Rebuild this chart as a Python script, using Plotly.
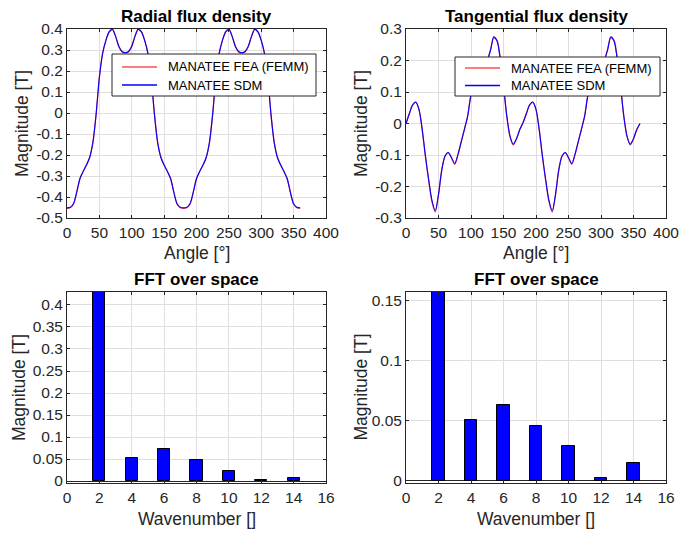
import plotly.graph_objects as go

# ---------------- data ----------------
angle = list(range(0, 361, 5))

radial_sdm = [
    -0.452, -0.449, -0.432, -0.378, -0.312, -0.278, -0.248, -0.212, -0.140, -0.005,
    0.170, 0.283, 0.345, 0.385, 0.398, 0.365, 0.318, 0.293, 0.287, 0.293,
    0.318, 0.365, 0.398, 0.385, 0.345, 0.283, 0.170, -0.005, -0.140, -0.212,
    -0.248, -0.278, -0.312, -0.378, -0.432, -0.449, -0.452, -0.449, -0.432, -0.378,
    -0.312, -0.278, -0.248, -0.212, -0.140, -0.005, 0.170, 0.283, 0.345, 0.385,
    0.398, 0.365, 0.318, 0.293, 0.287, 0.293, 0.318, 0.365, 0.398, 0.385,
    0.345, 0.283, 0.170, -0.005, -0.140, -0.212, -0.248, -0.278, -0.312, -0.378,
    -0.432, -0.449, -0.452,
]
radial_fea = [
    -0.454, -0.451, -0.433, -0.377, -0.313, -0.277, -0.249, -0.211, -0.141, -0.004,
    0.171, 0.284, 0.346, 0.387, 0.401, 0.366, 0.317, 0.291, 0.285, 0.291,
    0.317, 0.366, 0.401, 0.387, 0.346, 0.284, 0.171, -0.004, -0.141, -0.211,
    -0.249, -0.277, -0.313, -0.377, -0.433, -0.451, -0.454, -0.451, -0.433, -0.377,
    -0.313, -0.277, -0.249, -0.211, -0.141, -0.004, 0.171, 0.284, 0.346, 0.387,
    0.401, 0.366, 0.317, 0.291, 0.285, 0.291, 0.317, 0.366, 0.401, 0.387,
    0.346, 0.284, 0.171, -0.004, -0.141, -0.211, -0.249, -0.277, -0.313, -0.377,
    -0.433, -0.451, -0.454,
]

tang_sdm = [
    0.000, 0.030, 0.058, 0.068, 0.045, -0.020, -0.105, -0.180, -0.245, -0.277,
    -0.225, -0.148, -0.104, -0.092, -0.108, -0.127, -0.098, -0.058, -0.018, 0.025,
    0.090, 0.118, 0.140, 0.160, 0.180, 0.200, 0.232, 0.275, 0.262, 0.205,
    0.120, 0.025, -0.040, -0.066, -0.048, -0.020, 0.002, 0.030, 0.058, 0.068,
    0.045, -0.020, -0.105, -0.180, -0.245, -0.277, -0.225, -0.148, -0.104, -0.092,
    -0.108, -0.127, -0.098, -0.058, -0.018, 0.025, 0.090, 0.118, 0.140, 0.160,
    0.180, 0.200, 0.232, 0.275, 0.262, 0.205, 0.120, 0.025, -0.040, -0.066,
    -0.048, -0.020, 0.000,
]
tang_fea = [
    0.000, 0.031, 0.059, 0.067, 0.044, -0.021, -0.107, -0.183, -0.249, -0.281,
    -0.227, -0.147, -0.103, -0.093, -0.110, -0.130, -0.099, -0.057, -0.017, 0.026,
    0.091, 0.118, 0.140, 0.160, 0.180, 0.201, 0.234, 0.272, 0.265, 0.207,
    0.121, 0.024, -0.041, -0.068, -0.049, -0.019, 0.003, 0.031, 0.059, 0.067,
    0.044, -0.021, -0.107, -0.183, -0.249, -0.281, -0.227, -0.147, -0.103, -0.093,
    -0.110, -0.130, -0.099, -0.057, -0.017, 0.026, 0.091, 0.118, 0.140, 0.160,
    0.180, 0.201, 0.234, 0.272, 0.265, 0.207, 0.121, 0.024, -0.041, -0.068,
    -0.049, -0.019, 0.000,
]

wavenumber = [2, 4, 6, 8, 10, 12, 14]
fft_radial = [0.4295, 0.0516, 0.072, 0.047, 0.022, 0.003, 0.0075]
fft_tang = [0.157, 0.0505, 0.063, 0.046, 0.029, 0.0028, 0.0147]

series_names = ["MANATEE FEA (FEMM)", "MANATEE SDM"]

angle_ticks = [0, 50, 100, 150, 200, 250, 300, 350, 400]
radial_ticks = [-0.5, -0.4, -0.3, -0.2, -0.1, 0, 0.1, 0.2, 0.3, 0.4]
radial_ticktext = ["-0.5", "-0.4", "-0.3", "-0.2", "-0.1", "0", "0.1", "0.2", "0.3", "0.4"]
tang_ticks = [-0.3, -0.2, -0.1, 0, 0.1, 0.2, 0.3]
tang_ticktext = ["-0.3", "-0.2", "-0.1", "0", "0.1", "0.2", "0.3"]
wave_ticks = [0, 2, 4, 6, 8, 10, 12, 14, 16]
fft_r_ticks = [0, 0.05, 0.1, 0.15, 0.2, 0.25, 0.3, 0.35, 0.4]
fft_t_ticks = [0, 0.05, 0.1, 0.15]

# ---------------- styling ----------------
# the page body has an 8px default margin; the figure is sized to fill the rest
OFF = 8
W, H = 695 - OFF, 533 - OFF
FONT = "Liberation Sans, Arial, Helvetica, sans-serif"
AX = "#262626"
GRID = "#dedede"
RED = "rgb(255,80,80)"
BLUE = "#0000ff"


def px_x(p):
    return (p - OFF) / W


def px_y(p):
    return 1 - (p - OFF) / H


fig = go.Figure()

# radial
fig.add_trace(go.Scatter(x=angle, y=radial_fea, mode="lines", name=series_names[0],
                         line=dict(color=RED, width=1.3, shape="spline", smoothing=0.8),
                         xaxis="x", yaxis="y", showlegend=False))
fig.add_trace(go.Scatter(x=angle, y=radial_sdm, mode="lines", name=series_names[1],
                         line=dict(color=BLUE, width=1.1, shape="spline", smoothing=0.8),
                         xaxis="x", yaxis="y", showlegend=False))
# tangential
fig.add_trace(go.Scatter(x=angle, y=tang_fea, mode="lines", name=series_names[0],
                         line=dict(color=RED, width=1.3, shape="spline", smoothing=0.8),
                         xaxis="x2", yaxis="y2", showlegend=False))
fig.add_trace(go.Scatter(x=angle, y=tang_sdm, mode="lines", name=series_names[1],
                         line=dict(color=BLUE, width=1.1, shape="spline", smoothing=0.8),
                         xaxis="x2", yaxis="y2", showlegend=False))
# FFT bars
fig.add_trace(go.Bar(x=wavenumber, y=fft_radial, width=0.75, showlegend=False,
                     marker=dict(color=BLUE, line=dict(color="black", width=1)),
                     xaxis="x3", yaxis="y3"))
fig.add_trace(go.Bar(x=wavenumber, y=fft_tang, width=0.75, showlegend=False,
                     marker=dict(color=BLUE, line=dict(color="black", width=1)),
                     xaxis="x4", yaxis="y4"))

common = dict(showline=True, linecolor=AX, linewidth=1, mirror="ticks",
              ticks="inside", ticklen=3, tickcolor=AX, showgrid=True,
              gridcolor=GRID, gridwidth=1, zeroline=False, automargin=False,
              tickfont=dict(family=FONT, size=15.5, color=AX))

dom_x_left = [px_x(67), px_x(326)]
dom_x_right = [px_x(406), px_x(666)]
dom_y_top = [px_y(218), px_y(29)]
dom_y_bot = [px_y(483), px_y(292)]

fig.update_layout(
    template="none",
    width=W, height=H,
    margin=dict(l=0, r=0, t=0, b=0, pad=0, autoexpand=False),
    paper_bgcolor="white", plot_bgcolor="white",
    bargap=0, showlegend=False,
    xaxis=dict(domain=dom_x_left, anchor="y", range=[0, 400], tickvals=angle_ticks, **common),
    yaxis=dict(domain=dom_y_top, anchor="x", range=[-0.5, 0.4], tickvals=radial_ticks,
               ticktext=radial_ticktext, **common),
    xaxis2=dict(domain=dom_x_right, anchor="y2", range=[0, 400], tickvals=angle_ticks, **common),
    yaxis2=dict(domain=dom_y_top, anchor="x2", range=[-0.3, 0.3], tickvals=tang_ticks,
                ticktext=tang_ticktext, **common),
    xaxis3=dict(domain=dom_x_left, anchor="y3", range=[0, 16], tickvals=wave_ticks, **common),
    yaxis3=dict(domain=dom_y_bot, anchor="x3", range=[-0.0045, 0.4295], tickvals=fft_r_ticks,
                **{**common, "zeroline": True, "zerolinecolor": AX, "zerolinewidth": 1}),
    xaxis4=dict(domain=dom_x_right, anchor="y4", range=[0, 16], tickvals=wave_ticks, **common),
    yaxis4=dict(domain=dom_y_bot, anchor="x4", range=[-0.0017, 0.157], tickvals=fft_t_ticks,
                **{**common, "zeroline": True, "zerolinecolor": AX, "zerolinewidth": 1}),
)

annots = []
shapes = []


def title(text, xc, yc):
    annots.append(dict(text="<b>%s</b>" % text, x=px_x(xc), y=px_y(yc), xref="paper",
                       yref="paper", showarrow=False, xanchor="center", yanchor="middle",
                       font=dict(family=FONT, size=17, color="black")))


def label(text, xc, yc, angle_=0):
    annots.append(dict(text=text, x=px_x(xc), y=px_y(yc), xref="paper", yref="paper",
                       showarrow=False, xanchor="center", yanchor="middle", textangle=angle_,
                       font=dict(family=FONT, size=17.5, color=AX)))


def legend_box(x0, x1, y0, y1, rows):
    shapes.append(dict(type="rect", xref="paper", yref="paper", layer="above",
                       x0=px_x(x0), x1=px_x(x1), y0=px_y(y1), y1=px_y(y0),
                       fillcolor="white", line=dict(color=AX, width=1)))
    for name, color, yc in rows:
        shapes.append(dict(type="line", xref="paper", yref="paper", layer="above",
                           x0=px_x(x0 + 10), x1=px_x(x0 + 45), y0=px_y(yc), y1=px_y(yc),
                           line=dict(color=color, width=1.3)))
        annots.append(dict(text=name, x=px_x(x0 + 54), y=px_y(yc), xref="paper",
                           yref="paper", showarrow=False, xanchor="left", yanchor="middle",
                           font=dict(family=FONT, size=13, color="black")))


title("Radial flux density", 196.5, 17)
title("Tangential flux density", 536, 17)
title("FFT over space", 196.5, 279)
title("FFT over space", 536, 279)

label("Angle [°]", 196.5, 253)
label("Angle [°]", 536, 253)
label("Wavenumber []", 196.5, 519)
label("Wavenumber []", 536, 519)
label("Magnitude [T]", 22.5, 123.5, -90)
label("Magnitude [T]", 361.5, 123.5, -90)
label("Magnitude [T]", 18.5, 387.5, -90)
label("Magnitude [T]", 360, 387.5, -90)

legend_box(112, 316, 54, 96, [(series_names[0], RED, 67), (series_names[1], BLUE, 85)])
legend_box(455, 660, 57, 96, [(series_names[0], RED, 68), (series_names[1], BLUE, 85.5)])

fig.update_layout(annotations=annots, shapes=shapes)

fig.write_html("out.html")
